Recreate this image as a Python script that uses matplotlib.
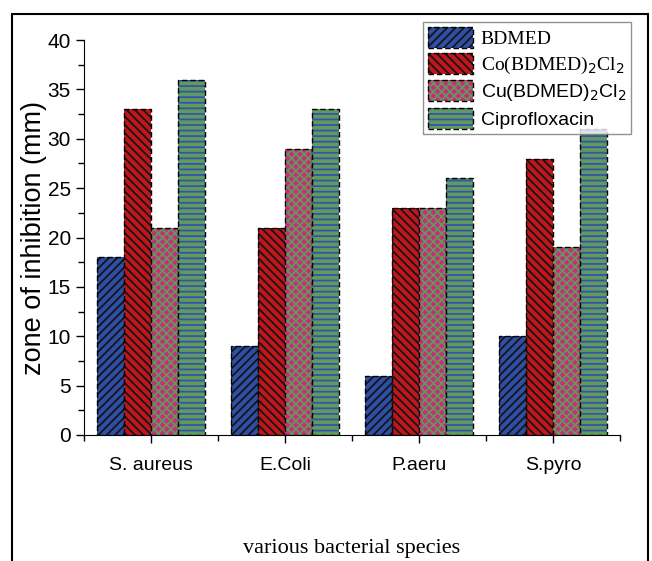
import numpy as np
import matplotlib.pyplot as plt
from matplotlib.patches import Rectangle
from matplotlib.ticker import MultipleLocator, FixedLocator
from matplotlib.legend_handler import HandlerTuple

# data
species = ['S. aureus', 'E.Coli', 'P.aeru', 'S.pyro']
bdmed = [18, 9, 6, 10]
co_complex = [33, 21, 23, 28]
cu_complex = [21, 29, 23, 19]
cipro = [36, 33, 26, 31]

series = [bdmed, co_complex, cu_complex, cipro]
labels = ['BDMED', 'Co(BDMED)$_2$Cl$_2$', 'Cu(BDMED)$_2$Cl$_2$', 'Ciprofloxacin']
faces = ['#2f4fa6', '#c0161b', '#d0287e', '#5e9c5c']
hatch_cols = ['#151515', '#151515', '#5f9a58', '#3a4fb0']
hatches = ['////', '\\\\\\\\', 'xxxx', '---']

plt.rcParams['hatch.linewidth'] = 1.3

fig = plt.figure(figsize=(6.52, 5.61), dpi=100)
ax = fig.add_axes([0.1288, 0.2246, 0.822, 0.704])

x = np.arange(len(species))
width = 0.2
dash = (0, (4, 2))
handles = []
for i, vals in enumerate(series):
    pos = x + (i - 1.5) * width
    ax.bar(pos, vals, width, color=faces[i], edgecolor=hatch_cols[i],
           hatch=hatches[i], linewidth=0)
    ax.bar(pos, vals, width, facecolor='none', edgecolor='black',
           linewidth=1.0, linestyle=dash)
    fill = Rectangle((0, 0), 1, 1, facecolor=faces[i], edgecolor=hatch_cols[i],
                     hatch=hatches[i], linewidth=0)
    edge = Rectangle((0, 0), 1, 1, facecolor='none', edgecolor='black',
                     linewidth=1.0, linestyle=dash)
    handles.append((fill, edge))

ax.set_xlim(-0.5, 3.5)
ax.set_ylim(0, 40)
ax.spines['top'].set_visible(False)
ax.spines['right'].set_visible(False)
ax.yaxis.set_major_locator(MultipleLocator(5))
ax.yaxis.set_minor_locator(MultipleLocator(2.5))
ax.set_xticks(x)
ax.set_xticklabels(species, fontfamily='Liberation Sans', fontsize=14)
ax.xaxis.set_minor_locator(FixedLocator([-0.5, 0.5, 1.5, 2.5, 3.5]))
ax.tick_params(axis='both', which='major', direction='out', length=6, width=1)
ax.tick_params(axis='both', which='minor', direction='out', length=4, width=1)
ax.tick_params(axis='x', which='major', pad=10)
for t in ax.get_yticklabels():
    t.set_fontfamily('Liberation Sans')
    t.set_fontsize(15)

ax.set_ylabel('zone of inhibition (mm)', fontfamily='Liberation Sans', fontsize=19.5, labelpad=0)
ax.set_xlabel('various bacterial species', fontfamily='Liberation Serif', fontsize=16, labelpad=47)

leg = fig.legend(handles, labels, loc='upper right', bbox_to_anchor=(0.968, 0.96),
                 handler_map={tuple: HandlerTuple(ndivide=1, pad=0)},
                 frameon=True, fancybox=False, edgecolor='#777777', fontsize=14,
                 handlelength=2.3, handleheight=1.3, handletextpad=0.4,
                 labelspacing=0.22, borderpad=0.25, borderaxespad=0)
leg.get_frame().set_linewidth(1.0)
fams = ['Liberation Serif', 'Liberation Serif', 'Liberation Sans', 'Liberation Sans']
for t, f in zip(leg.get_texts(), fams):
    t.set_fontfamily(f)

# outer frame
fig.patches.append(Rectangle((12 / 652, -0.01), 636 / 652, 1 - 14 / 561 + 0.01,
                             transform=fig.transFigure, fill=False,
                             edgecolor='black', linewidth=1.5))

fig.savefig('out.png', dpi=100)
